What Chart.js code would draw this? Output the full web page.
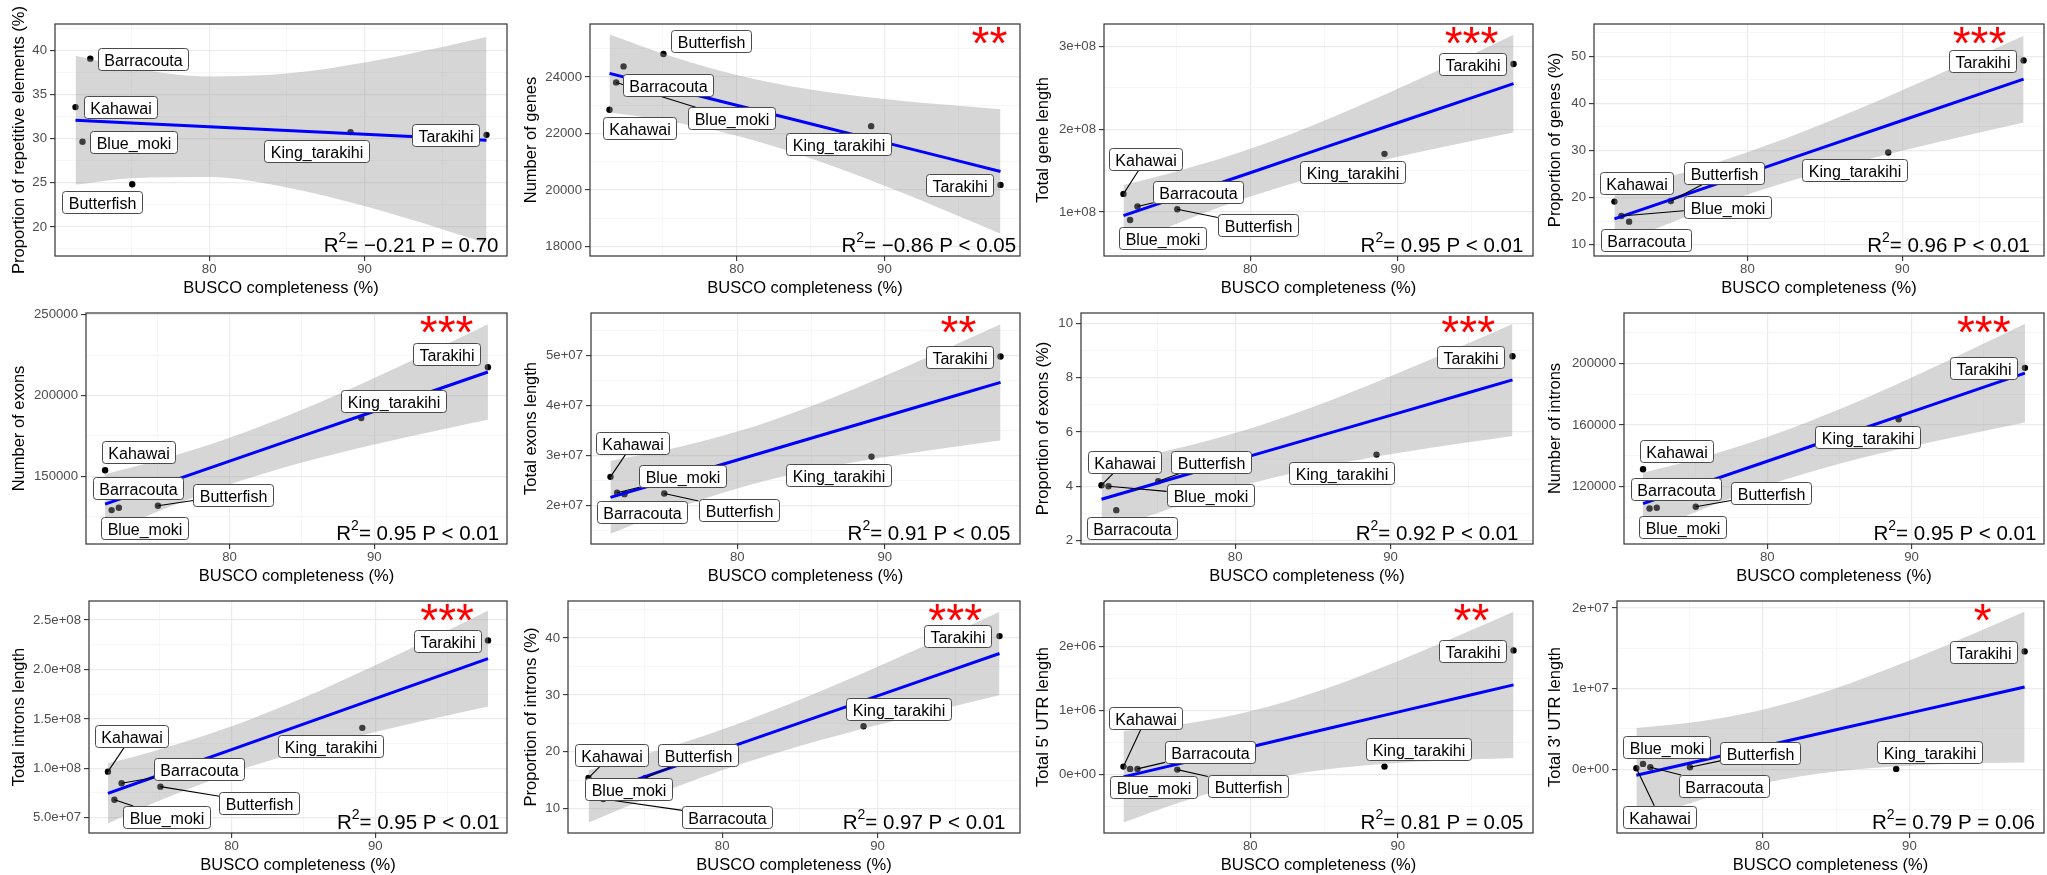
<!DOCTYPE html>
<html><head><meta charset="utf-8">
<script src="https://cdn.jsdelivr.net/npm/chart.js@4.4.1/dist/chart.umd.min.js"></script>
<style>
html,body{margin:0;padding:0;background:#fff;}
#wrap{position:relative;width:2047px;height:875px;overflow:hidden;background:#fff;}
#wrap canvas{position:absolute;}
</style></head><body><div id="wrap"></div>
<script>
// ---------------- data ----------------
const species = ['Kahawai','Blue_moki','Barracouta','Butterfish','King_tarakihi','Tarakihi'];
const busco = [71.4, 71.85, 72.35, 75.05, 89.1, 97.85];
const fitX = [71.4, 75, 80, 85, 90, 95, 97.85];
const xTicks = [75, 80, 85, 90, 95];
const xTickLabels = [80, 90];

const repeatsPct   = [33.6, 29.66, 39.1, 24.85, 30.76, 30.45];
const repeatsFit   = [32.1, 31.79, 31.37, 30.94, 30.52, 30.09, 29.85];
const repeatsUpper = [39.42, 38.05, 37.08, 37.40, 38.67, 40.43, 41.55];
const repeatsLower = [24.78, 25.53, 25.66, 24.48, 22.37, 19.75, 18.15];

const genes      = [22840, 23811, 24379, 24816, 22261, 20178];
const genesFit   = [24130, 23657, 23000, 22343, 21686, 21029, 20655];
const genesUpper = [25512, 24838, 24077, 23561, 23224, 22980, 22862];
const genesLower = [22748, 22476, 21923, 21125, 20148, 19078, 18448];

const geneLen      = [1.218e8, 0.903e8, 1.065e8, 1.032e8, 1.702e8, 2.786e8];
const geneLenFit   = [0.956e8, 1.173e8, 1.474e8, 1.776e8, 2.077e8, 2.378e8, 2.55e8];
const geneLenUpper = [1.325e8, 1.489e8, 1.762e8, 2.102e8, 2.488e8, 2.900e8, 3.14e8];
const geneLenLower = [0.587e8, 0.857e8, 1.186e8, 1.450e8, 1.666e8, 1.856e8, 1.96e8];

const genePct      = [19.15, 16.1, 14.89, 19.29, 29.57, 49.15];
const genePctFit   = [15.49, 19.53, 25.14, 30.76, 36.37, 41.98, 45.18];
const genePctUpper = [21.26, 24.46, 29.64, 35.85, 42.80, 50.13, 54.40];
const genePctLower = [9.72, 14.60, 20.64, 25.67, 29.94, 33.83, 35.96];

const exons      = [153700, 129000, 130450, 131700, 186000, 217500];
const exonsFit   = [132700, 143830, 159290, 174760, 190220, 205690, 214500];
const exonsUpper = [151230, 159670, 173730, 191100, 210850, 231860, 244100];
const exonsLower = [114170, 127990, 144850, 158420, 169590, 179520, 184900];

const exonLen      = [2.567e7, 2.247e7, 2.22e7, 2.233e7, 2.973e7, 4.98e7];
const exonLenFit   = [2.155e7, 2.469e7, 2.905e7, 3.341e7, 3.777e7, 4.214e7, 4.462e7];
const exonLenUpper = [2.886e7, 3.093e7, 3.475e7, 3.985e7, 4.590e7, 5.246e7, 5.629e7];
const exonLenLower = [1.424e7, 1.845e7, 2.335e7, 2.697e7, 2.964e7, 3.182e7, 3.295e7];

const exonPct      = [4.043, 4.006, 3.125, 4.19, 5.17, 8.79];
const exonPctFit   = [3.527, 4.125, 4.955, 5.785, 6.615, 7.445, 7.918];
const exonPctUpper = [4.817, 5.227, 5.960, 6.922, 8.051, 9.266, 9.978];
const exonPctLower = [2.237, 3.023, 3.950, 4.648, 5.179, 5.624, 5.858];

const introns      = [131400, 106000, 106450, 107100, 163660, 197000];
const intronsFit   = [109100, 120600, 136570, 152550, 168520, 184500, 193600];
const intronsUpper = [129130, 137720, 152190, 170210, 190820, 212790, 225600];
const intronsLower = [89070, 103480, 120950, 134890, 146220, 156210, 161600];

const intronLen      = [0.966e8, 0.682e8, 0.848e8, 0.814e8, 1.409e8, 2.294e8];
const intronLenFit   = [0.746e8, 0.932e8, 1.189e8, 1.447e8, 1.705e8, 1.963e8, 2.11e8];
const intronLenUpper = [1.050e8, 1.191e8, 1.426e8, 1.715e8, 2.043e8, 2.392e8, 2.595e8];
const intronLenLower = [0.442e8, 0.673e8, 0.952e8, 1.179e8, 1.367e8, 1.534e8, 1.625e8];

const intronPct      = [15.4, 12.2, 11.7, 15.4, 24.5, 40.35];
const intronPctFit   = [12.15, 15.57, 20.32, 25.07, 29.82, 34.57, 37.28];
const intronPctUpper = [16.75, 19.50, 23.91, 29.13, 34.94, 41.07, 44.63];
const intronPctLower = [7.55, 11.64, 16.73, 21.01, 24.70, 28.07, 29.93];

const utr5      = [0.125e6, 0.089e6, 0.089e6, 0.078e6, 0.125e6, 1.9375e6];
const utr5Fit   = [-0.035e6, 0.160e6, 0.4315e6, 0.703e6, 0.974e6, 1.2455e6, 1.40e6];
const utr5Upper = [0.679e6, 0.770e6, 0.988e6, 1.332e6, 1.769e6, 2.254e6, 2.54e6];
const utr5Lower = [-0.749e6, -0.450e6, -0.125e6, 0.074e6, 0.179e6, 0.238e6, 0.26e6];

const utr3      = [0.012e7, 0.066e7, 0.025e7, 0.025e7, 0.004e7, 1.462e7];
const utr3Fit   = [-0.074e7, 0.075e7, 0.282e7, 0.489e7, 0.696e7, 0.903e7, 1.021e7];
const utr3Upper = [0.512e7, 0.576e7, 0.739e7, 1.006e7, 1.348e7, 1.730e7, 1.957e7];
const utr3Lower = [-0.660e7, -0.426e7, -0.175e7, -0.028e7, 0.044e7, 0.076e7, 0.085e7];

// y tick values and their labels
const repeatsTicks = [20, 25, 30, 35, 40];            const repeatsTickLab = ['20','25','30','35','40'];
const genesTicks = [18000, 20000, 22000, 24000];      const genesTickLab = ['18000','20000','22000','24000'];
const geneLenTicks = [1e8, 2e8, 3e8];                 const geneLenTickLab = ['1e+08','2e+08','3e+08'];
const genePctTicks = [10, 20, 30, 40, 50];            const genePctTickLab = ['10','20','30','40','50'];
const exonsTicks = [150000, 200000, 250000];          const exonsTickLab = ['150000','200000','250000'];
const exonLenTicks = [2e7, 3e7, 4e7, 5e7];            const exonLenTickLab = ['2e+07','3e+07','4e+07','5e+07'];
const exonPctTicks = [2, 4, 6, 8, 10];                const exonPctTickLab = ['2','4','6','8','10'];
const intronsTicks = [120000, 160000, 200000];        const intronsTickLab = ['120000','160000','200000'];
const intronLenTicks = [0.5e8, 1e8, 1.5e8, 2e8, 2.5e8]; const intronLenTickLab = ['5.0e+07','1.0e+08','1.5e+08','2.0e+08','2.5e+08'];
const intronPctTicks = [10, 20, 30, 40];              const intronPctTickLab = ['10','20','30','40'];
const utr5Ticks = [0, 1e6, 2e6];                      const utr5TickLab = ['0e+00','1e+06','2e+06'];
const utr3Ticks = [0, 1e7, 2e7];                      const utr3TickLab = ['0e+00','1e+07','2e+07'];

// label anchor spots (data coords), species order
const repeatsTags   = [[74.30,33.56],[75.14,29.66],[75.78,39.11],[73.06,22.82],[86.88,28.66],[95.21,30.45]];
const genesTags     = [[73.45,22189],[79.62,22544],[75.39,23728],[78.26,25266],[86.88,21621],[95.08,20166]];
const geneLenTags   = [[72.93,1.643e8],[74.07,0.681e8],[76.49,1.240e8],[80.49,0.837e8],[86.89,1.482e8],[95.08,2.786e8]];
const genePctTags   = [[72.87,23.16],[78.69,17.98],[73.44,10.96],[78.47,25.18],[86.89,25.78],[95.21,48.94]];
const exonsTags     = [[73.73,165000],[74.14,117700],[73.67,142500],[80.24,138600],[91.32,196800],[94.99,225700]];
const exonLenTags   = [[72.94,3.243e7],[76.30,2.577e7],[73.56,1.867e7],[80.07,1.91e7],[86.87,2.61e7],[95.08,4.973e7]];
const exonPctTags   = [[72.89,4.899],[78.38,3.676],[73.40,2.453],[78.45,4.899],[86.85,4.477],[95.15,8.777]];
const intronsTags   = [[73.73,142900],[74.13,94200],[73.67,118700],[80.25,115700],[86.9,152260],[95.0,197200]];
const intronLenTags = [[73.08,1.331e8],[75.44,0.507e8],[77.76,0.988e8],[81.93,0.652e8],[86.9,1.230e8],[95.0,2.291e8]];
const intronPctTags = [[72.88,19.45],[73.94,13.46],[80.34,8.55],[78.45,19.42],[91.31,27.55],[95.17,40.32]];
const utr5Tags      = [[72.93,0.878e6],[73.44,-0.198e6],[77.28,0.357e6],[79.82,-0.172e6],[91.37,0.401e6],[95.1,1.932e6]];
const utr3Tags      = [[72.98,-0.590e7],[73.43,0.275e7],[77.39,-0.209e7],[79.82,0.207e7],[91.36,0.217e7],[95.07,1.460e7]];

// ---------------- panels ----------------
const panels = [
 {title:'Proportion of repetitive elements (%)', y:repeatsPct, fit:repeatsFit, up:repeatsUpper, lo:repeatsLower, tags:repeatsTags,
  ymin:16.7, ymax:43.03, major:repeatsTicks, majorLab:repeatsTickLab, minor:[17.5,22.5,27.5,32.5,37.5,42.5],
  stars:'', starX:95, stat:'= \u22120.21 P = 0.70', rect:[55,24,509,256]},
 {title:'Number of genes', y:genes, fit:genesFit, up:genesUpper, lo:genesLower, tags:genesTags,
  ymin:17657, ymax:25882, major:genesTicks, majorLab:genesTickLab, minor:[19000,21000,23000,25000],
  stars:'**', starX:97.1, stat:'= \u22120.86 P < 0.05', rect:[590,24,1022,256]},
 {title:'Total gene length', y:geneLen, fit:geneLenFit, up:geneLenUpper, lo:geneLenLower, tags:geneLenTags,
  ymin:0.468e8, ymax:3.27e8, major:geneLenTicks, majorLab:geneLenTickLab, minor:[0.5e8,1.5e8,2.5e8],
  stars:'***', starX:95, stat:'= 0.95 P < 0.01', rect:[1104,24,1535,256]},
 {title:'Proportion of genes (%)', y:genePct, fit:genePctFit, up:genePctUpper, lo:genePctLower, tags:genePctTags,
  ymin:7.59, ymax:56.88, major:genePctTicks, majorLab:genePctTickLab, minor:[15,25,35,45,55],
  stars:'***', starX:95, stat:'= 0.96 P < 0.01', rect:[1594,24,2046,256]},
 {title:'Number of exons', y:exons, fit:exonsFit, up:exonsUpper, lo:exonsLower, tags:exonsTags,
  ymin:108020, ymax:251030, major:exonsTicks, majorLab:exonsTickLab, minor:[125000,175000,225000],
  stars:'***', starX:95, stat:'= 0.95 P < 0.01', rect:[86,313,509,544]},
 {title:'Total exons length', y:exonLen, fit:exonLenFit, up:exonLenUpper, lo:exonLenLower, tags:exonLenTags,
  ymin:1.22e7, ymax:5.853e7, major:exonLenTicks, majorLab:exonLenTickLab, minor:[1.5e7,2.5e7,3.5e7,4.5e7,5.5e7],
  stars:'**', starX:95, stat:'= 0.91 P < 0.05', rect:[591,313,1022,544]},
 {title:'Proportion of exons (%)', y:exonPct, fit:exonPctFit, up:exonPctUpper, lo:exonPctLower, tags:exonPctTags,
  ymin:1.88, ymax:10.38, major:exonPctTicks, majorLab:exonPctTickLab, minor:[3,5,7,9],
  stars:'***', starX:95, stat:'= 0.92 P < 0.01', rect:[1081,313,1535,544]},
 {title:'Number of introns', y:introns, fit:intronsFit, up:intronsUpper, lo:intronsLower, tags:intronsTags,
  ymin:83000, ymax:232500, major:intronsTicks, majorLab:intronsTickLab, minor:[100000,140000,180000,220000],
  stars:'***', starX:95, stat:'= 0.95 P < 0.01', rect:[1624,313,2046,544]},
 {title:'Total introns length', y:intronLen, fit:intronLenFit, up:intronLenUpper, lo:intronLenLower, tags:intronLenTags,
  ymin:0.345e8, ymax:2.693e8, major:intronLenTicks, majorLab:intronLenTickLab, minor:[0.75e8,1.25e8,1.75e8,2.25e8],
  stars:'***', starX:95, stat:'= 0.95 P < 0.01', rect:[89,601,509,833]},
 {title:'Proportion of introns (%)', y:intronPct, fit:intronPctFit, up:intronPctUpper, lo:intronPctLower, tags:intronPctTags,
  ymin:5.71, ymax:46.52, major:intronPctTicks, majorLab:intronPctTickLab, minor:[15,25,35,45],
  stars:'***', starX:95, stat:'= 0.97 P < 0.01', rect:[568,601,1022,833]},
 {title:"Total 5' UTR length", y:utr5, fit:utr5Fit, up:utr5Upper, lo:utr5Lower, tags:utr5Tags,
  ymin:-0.911e6, ymax:2.708e6, major:utr5Ticks, majorLab:utr5TickLab, minor:[-0.5e6,0.5e6,1.5e6,2.5e6],
  stars:'**', starX:95, stat:'= 0.81 P = 0.05', rect:[1104,601,1535,833]},
 {title:"Total 3' UTR length", y:utr3, fit:utr3Fit, up:utr3Upper, lo:utr3Lower, tags:utr3Tags,
  ymin:-0.791e7, ymax:2.087e7, major:utr3Ticks, majorLab:utr3TickLab, minor:[-0.5e7,0.5e7,1.5e7],
  stars:'*', starX:95, stat:'= 0.79 P = 0.06', rect:[1617,601,2046,833]}
];

const FONT = '"Liberation Sans", Arial, Helvetica, sans-serif';
const TOP_PAD = 24, X_AXIS_H = 45;
const wrap = document.getElementById('wrap');

function decor(p){
  return {
    id: 'decor',
    afterDatasetsDraw(chart){
      const {ctx, scales:{x, y}} = chart;
      ctx.save();
      ctx.font = '16px ' + FONT;
      const boxes = p.tags.map((t, k) => ({
        cx: x.getPixelForValue(t[0]), cy: y.getPixelForValue(t[1]),
        w: ctx.measureText(species[k]).width + 12, h: 22,
        px: x.getPixelForValue(busco[k]), py: y.getPixelForValue(p.y[k])
      }));
      ctx.strokeStyle = '#000'; ctx.lineWidth = 1.1;
      boxes.forEach(b => {
        const hw = b.w/2, hh = b.h/2;
        const gx = Math.max(Math.abs(b.px-b.cx)-hw, 0), gy = Math.max(Math.abs(b.py-b.cy)-hh, 0);
        if (Math.hypot(gx, gy) < 9) return;
        const dx = b.px-b.cx, dy = b.py-b.cy;
        const s = Math.min(dx ? hw/Math.abs(dx) : Infinity, dy ? hh/Math.abs(dy) : Infinity);
        ctx.beginPath(); ctx.moveTo(b.px, b.py); ctx.lineTo(b.cx+dx*s, b.cy+dy*s); ctx.stroke();
      });
      boxes.forEach((b, k) => {
        const bx = Math.round(b.cx-b.w/2)+0.5, by = Math.round(b.cy-b.h/2)+0.5;
        ctx.beginPath(); ctx.roundRect(bx, by, Math.round(b.w), b.h, 3);
        ctx.fillStyle = '#fff'; ctx.fill();
        ctx.strokeStyle = '#4a4a4a'; ctx.lineWidth = 1; ctx.stroke();
        ctx.fillStyle = '#000'; ctx.textAlign = 'center'; ctx.textBaseline = 'alphabetic';
        ctx.fillText(species[k], bx + Math.round(b.w)/2, by + b.h/2 + 6.3);
      });
      ctx.restore();
    },
    afterDraw(chart){
      const {ctx, chartArea:ca, scales:{x}} = chart;
      ctx.save();
      ctx.strokeStyle = '#333'; ctx.lineWidth = 1.2;
      ctx.strokeRect(ca.left, ca.top, ca.right-ca.left, ca.bottom-ca.top);
      // statistic text
      ctx.fillStyle = '#000'; ctx.textBaseline = 'alphabetic'; ctx.textAlign = 'left';
      const big = '20.5px ' + FONT, small = '14px ' + FONT;
      ctx.font = big; const wR = ctx.measureText('R').width, wRest = ctx.measureText(p.stat).width;
      ctx.font = small; const w2 = ctx.measureText('2').width;
      const tot = wR + w2 + wRest;
      const x0 = x.getPixelForValue(93) - tot/2, base = ca.bottom - 4;
      ctx.font = big; ctx.fillText('R', x0, base);
      ctx.font = small; ctx.fillText('2', x0 + wR, base - 10);
      ctx.font = big; ctx.fillText(p.stat, x0 + wR + w2, base);
      // significance stars
      if (p.stars){
        ctx.font = '46px ' + FONT; ctx.fillStyle = '#FF0000'; ctx.textAlign = 'center';
        const m = ctx.measureText(p.stars);
        const cy = ca.top + 11;
        const baseY = cy + (m.actualBoundingBoxAscent - m.actualBoundingBoxDescent)/2;
        ctx.fillText(p.stars, x.getPixelForValue(p.starX), baseY);
      }
      ctx.restore();
    }
  };
}

panels.forEach((p, i) => {
  const colStart = [0, 512, 1024, 1536][i % 4];
  const [l, t, r, b] = p.rect;
  const W = r - colStart + 2, H = (b + X_AXIS_H) - (t - TOP_PAD);
  const cv = document.createElement('canvas');
  cv.width = W; cv.height = H;
  cv.style.left = colStart + 'px'; cv.style.top = (t - TOP_PAD) + 'px';
  cv.style.width = W + 'px'; cv.style.height = H + 'px';
  wrap.appendChild(cv);

  const isMajorX = v => xTickLabels.includes(v);
  const isMajorY = v => p.major.includes(v);
  const yTickVals = p.major.concat(p.minor).sort((a, c) => a - c);

  new Chart(cv, {
    type: 'scatter',
    data: { datasets: [
      { data: busco.map((xv, k) => ({x: xv, y: p.y[k]})), showLine: false,
        pointRadius: 3.2, pointBackgroundColor: '#000', pointBorderWidth: 0, pointBorderColor: 'rgba(0,0,0,0)', order: 3 },
      { data: fitX.map((xv, k) => ({x: xv, y: p.up[k]})), showLine: true, fill: '+1',
        backgroundColor: 'rgba(153,153,153,0.4)', borderColor: 'rgba(0,0,0,0)', borderWidth: 0,
        pointRadius: 0, cubicInterpolationMode: 'monotone', order: 2 },
      { data: fitX.map((xv, k) => ({x: xv, y: p.lo[k]})), showLine: true, fill: false,
        borderColor: 'rgba(0,0,0,0)', borderWidth: 0, pointRadius: 0, cubicInterpolationMode: 'monotone', order: 2 },
      { data: fitX.map((xv, k) => ({x: xv, y: p.fit[k]})), showLine: true, fill: false,
        borderColor: '#0000FF', borderWidth: 3, pointRadius: 0, tension: 0, order: 1 }
    ]},
    options: {
      responsive: false, animation: false, devicePixelRatio: 1, events: [],
      layout: { padding: { left: 0, right: 2, top: TOP_PAD, bottom: 0 } },
      plugins: { legend: { display: false }, tooltip: { enabled: false } },
      scales: {
        x: {
          type: 'linear', min: 70.08, max: 99.17,
          afterBuildTicks: s => { s.ticks = xTicks.map(v => ({value: v})); },
          afterFit: s => { s.height = X_AXIS_H; },
          ticks: { autoSkip: false, maxRotation: 0, padding: 0, color: '#4D4D4D',
                   font: { family: FONT, size: 13.2 },
                   callback: v => isMajorX(v) ? String(v) : '' },
          grid: { color: c => (c.tick && isMajorX(c.tick.value)) ? '#EBEBEB' : '#F4F4F4',
                  lineWidth: c => (c.tick && isMajorX(c.tick.value)) ? 1.2 : 0.8,
                  tickLength: 5, tickWidth: 1.1,
                  tickColor: c => (c.tick && isMajorX(c.tick.value)) ? '#333' : 'rgba(0,0,0,0)' },
          border: { display: false },
          title: { display: true, text: 'BUSCO completeness (%)', color: '#000',
                   font: { family: FONT, size: 16.5 }, padding: { top: 0, bottom: 3 } }
        },
        y: {
          type: 'linear', min: p.ymin, max: p.ymax,
          afterBuildTicks: s => { s.ticks = yTickVals.map(v => ({value: v})); },
          afterFit: s => { s.width = l - colStart; },
          ticks: { autoSkip: false, padding: 3, color: '#4D4D4D', font: { family: FONT, size: 13.2 },
                   callback: v => { const k = p.major.indexOf(v); return k >= 0 ? p.majorLab[k] : ''; } },
          grid: { color: c => (c.tick && isMajorY(c.tick.value)) ? '#EBEBEB' : '#F4F4F4',
                  lineWidth: c => (c.tick && isMajorY(c.tick.value)) ? 1.2 : 0.8,
                  tickLength: 5, tickWidth: 1.1,
                  tickColor: c => (c.tick && isMajorY(c.tick.value)) ? '#333' : 'rgba(0,0,0,0)' },
          border: { display: false },
          title: { display: true, text: p.title, color: '#000',
                   font: { family: FONT, size: 16.5 }, padding: { top: 10, bottom: 0 } }
        }
      }
    },
    plugins: [decor(p)]
  });
});
</script>
</body></html>
